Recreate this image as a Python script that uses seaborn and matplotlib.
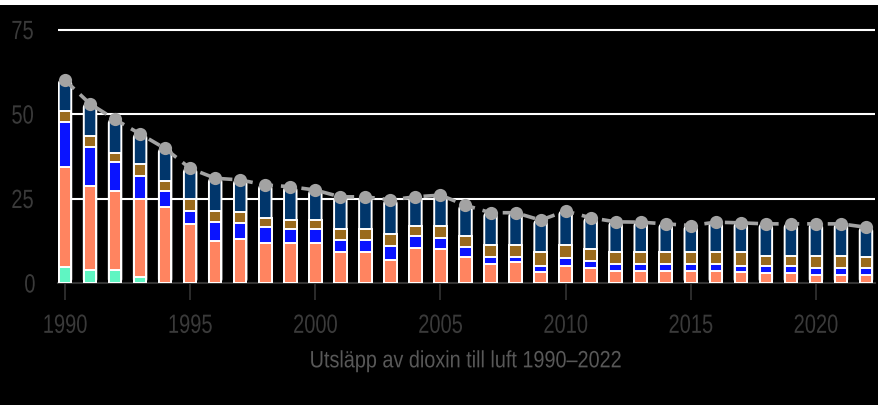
import numpy as np
import pandas as pd
import matplotlib
matplotlib.use("Agg")
import matplotlib.pyplot as plt
from matplotlib.patches import FancyBboxPatch
from matplotlib.patheffects import AbstractPathEffect
from matplotlib.transforms import Affine2D
import seaborn as sns

years = list(range(1990, 2023))
teal = [4.7, 3.8, 3.9, 1.7] + [0.0] * 29
salmon = [29.7, 25.0, 23.3, 23.3, 22.6, 17.5, 12.4, 13.0, 11.7, 11.7, 11.7, 9.1, 9.1, 6.8,
          10.3, 10.1, 7.8, 5.5, 6.1, 3.4, 5.1, 4.3, 3.6, 3.6, 3.6, 3.6, 3.6, 3.4, 2.9, 2.9,
          2.4, 2.4, 2.4]
blue = [13.1, 11.3, 8.5, 6.7, 4.5, 3.9, 5.7, 4.9, 4.8, 4.2, 4.2, 3.6, 3.6, 4.1, 3.7, 3.3,
        2.9, 2.3, 1.5, 1.7, 2.2, 2.3, 2.0, 2.0, 2.0, 2.0, 2.0, 1.7, 2.1, 2.1, 2.1, 2.1, 2.1]
brown = [3.4, 3.5, 2.8, 3.4, 3.0, 3.4, 3.3, 3.2, 2.6, 2.7, 2.7, 3.2, 3.2, 3.5, 3.0, 3.5,
         3.3, 3.4, 3.6, 4.0, 3.9, 3.5, 3.7, 3.7, 3.7, 3.7, 3.7, 4.0, 3.0, 3.0, 3.5, 3.5, 3.1]
navy = [9.1, 9.4, 9.9, 9.0, 9.7, 9.1, 9.6, 9.4, 9.9, 9.9, 8.9, 9.6, 9.6, 10.2, 8.5, 9.1,
        9.0, 9.6, 9.6, 9.5, 10.1, 9.2, 8.8, 8.7, 8.2, 7.7, 8.7, 8.7, 9.5, 9.5, 9.5, 9.5, 8.9]
x_ticks = [1990, 1995, 2000, 2005, 2010, 2015, 2020]
y_ticks = [0, 25, 50, 75]
xlabel_text = "Utsläpp av dioxin till luft 1990–2022"

series = [("teal", teal, "#5ff5c2"), ("salmon", salmon, "#ff8460"),
          ("blue", blue, "#0a14ff"), ("brown", brown, "#9a6a1c"),
          ("navy", navy, "#01366b")]


class Condense(AbstractPathEffect):
    """Squeeze text horizontally about its own centre (narrow-font look)."""
    def __init__(self, sx=0.8):
        super().__init__()
        self.sx = sx

    def draw_path(self, renderer, gc, tpath, affine, rgbFace=None):
        ext = tpath.get_extents()
        cx = (ext.x0 + ext.x1) / 2.0
        t = Affine2D().translate(-cx, 0).scale(self.sx, 1.0).translate(cx, 0) + affine
        renderer.draw_path(gc, tpath, t, rgbFace)


df = pd.DataFrame({"year": years})
cum = np.zeros(len(years))
for name, vals, _ in series:
    cum = cum + np.array(vals)
    df[name + "_top"] = cum
df["total"] = cum

sns.set_theme(style="dark")
plt.rcParams['font.family'] = ['Liberation Sans', 'DejaVu Sans']

fig = plt.figure(figsize=(8.79, 4.05), dpi=100, facecolor="black")
ax = fig.add_axes([58 / 879, 1 - 283 / 405, (875 - 58) / 879, (283 - 19.4) / 405])
ax.set_facecolor("black")
ax.set_xlim(1989.72, 2022.36)
ax.set_ylim(0, 78)

# draw from top segment downward so each shorter bar overlays the taller one
for name, vals, color in reversed(series):
    n0 = len(ax.patches)
    sns.barplot(data=df, x="year", y=name + "_top", native_scale=True, width=0.5,
                color=color, saturation=1, edgecolor="white", linewidth=1.4, ax=ax,
                zorder=3)
    if name == "navy":
        # give the top segment rounded corners like the reference
        for p in list(ax.patches[n0:]):
            rb = FancyBboxPatch((p.get_x(), p.get_y()), p.get_width(), p.get_height(),
                                boxstyle="round,pad=0,rounding_size=0.17",
                                mutation_aspect=7.0, facecolor=p.get_facecolor(),
                                edgecolor="white", linewidth=1.4, zorder=3)
            p.remove()
            ax.add_patch(rb)

sns.lineplot(data=df, x="year", y="total", color="#a3a3a3", linewidth=2.6,
             linestyle=(0, (3.5, 2.2)), marker="o", markersize=9.5,
             markeredgewidth=0, ax=ax, zorder=5)

ax.set_xlim(1989.72, 2022.36)
ax.set_ylim(0, 78)
ax.set_yticks(y_ticks)
ax.set_xticks(x_ticks)
ax.set_yticklabels([str(v) for v in y_ticks])
ax.set_xticklabels([str(v) for v in x_ticks])
ax.grid(False)
for v in y_ticks[1:]:
    ax.axhline(v, color="white", linewidth=1.5, zorder=1)

for s in ["top", "right", "left"]:
    ax.spines[s].set_visible(False)
ax.spines["bottom"].set_color("#333333")
ax.spines["bottom"].set_linewidth(1.5)

ax.tick_params(axis="x", length=12.2, width=1.2, color="#333333", labelsize=19,
               labelcolor="#3a3a3a", pad=10, bottom=True)
ax.tick_params(axis="y", length=0, labelsize=19, labelcolor="#3a3a3a", pad=15)
ax.set_xlabel(xlabel_text, fontsize=17, color="#585858", labelpad=9)
ax.set_ylabel("")

for lab in ax.get_xticklabels() + ax.get_yticklabels():
    lab.set_path_effects([Condense(0.76)])
ax.xaxis.label.set_path_effects([Condense(0.84)])

fig.patches.append(plt.Rectangle((0, 1 - 5 / 405), 1, 5 / 405, transform=fig.transFigure,
                                 facecolor="white", edgecolor="none"))

fig.savefig("out.png", dpi=100, facecolor="black")
